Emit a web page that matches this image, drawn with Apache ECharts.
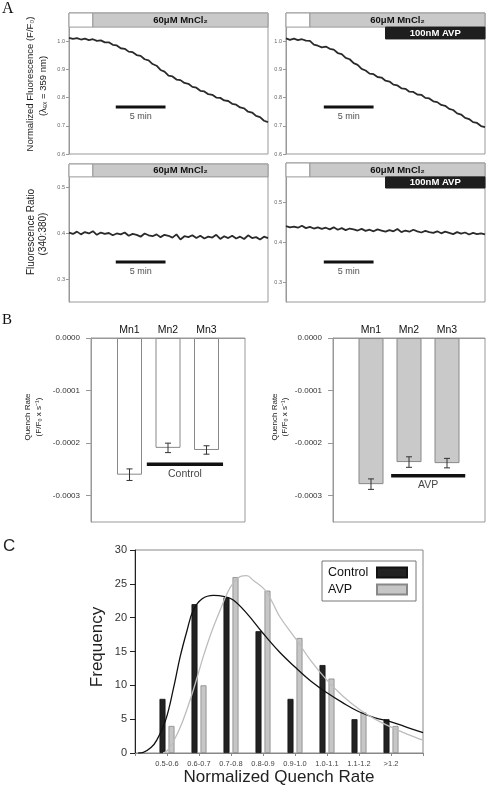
<!DOCTYPE html>
<html><head><meta charset="utf-8">
<script src="https://cdn.jsdelivr.net/npm/echarts@6/dist/echarts.min.js"></script>
<style>html,body{margin:0;padding:0;background:#fff}#c{width:488px;height:792px}</style>
</head><body><div id="c"></div>
<script>
// ---------- Panel A data ----------
const timeMin = [0,0.4,0.8,1.2,1.6,2,2.4,2.8,3.2,3.6,4,4.4,4.8,5.2,5.6,6,6.4,6.8,7.2,7.6,8,8.4,8.8,9.2,9.6,10,10.4,10.8,11.2,11.6,12,12.4,12.8,13.2,13.6,14,14.4,14.8,15.2,15.6,16,16.4,16.8,17.2,17.6,18,18.4,18.8,19.2,19.6,20];
const fluorControl = [1.012,1.008,1.011,1.006,1.009,1.004,1.007,1.001,1.003,0.996,
  0.996,0.987,0.985,0.975,0.973,0.963,0.961,0.951,0.948,0.936,
  0.932,0.919,0.913,0.898,0.892,0.878,0.875,0.864,0.862,0.852,
  0.849,0.838,0.835,0.824,0.822,0.812,0.810,0.800,0.799,0.790,
  0.788,0.778,0.775,0.765,0.762,0.750,0.747,0.735,0.731,0.718,0.713];
const fluorAVP = [1.010,1.005,1.009,1.004,1.007,1.002,1.001,0.988,0.984,0.978,
  0.981,0.973,0.970,0.958,0.954,0.941,0.936,0.922,0.916,0.902,
  0.896,0.885,0.883,0.873,0.871,0.860,0.857,0.846,0.843,0.833,
  0.831,0.821,0.820,0.811,0.810,0.799,0.797,0.787,0.784,0.774,
  0.771,0.760,0.756,0.744,0.740,0.728,0.724,0.713,0.710,0.699,0.695];
const ratioControl = [0.401,0.398,0.403,0.397,0.402,0.399,0.404,0.396,0.401,0.398,
  0.400,0.395,0.399,0.397,0.401,0.394,0.398,0.396,0.392,0.399,
  0.395,0.393,0.397,0.391,0.396,0.394,0.390,0.397,0.386,0.393,
  0.391,0.395,0.389,0.394,0.388,0.392,0.390,0.396,0.387,0.393,
  0.389,0.394,0.388,0.392,0.387,0.395,0.389,0.391,0.386,0.392,0.389];
const ratioAVP = [0.441,0.438,0.440,0.437,0.442,0.436,0.439,0.435,0.438,0.434,
  0.437,0.433,0.438,0.432,0.436,0.431,0.435,0.433,0.430,0.434,
  0.429,0.432,0.428,0.433,0.430,0.427,0.431,0.428,0.434,0.426,
  0.430,0.427,0.432,0.428,0.425,0.429,0.426,0.424,0.428,0.423,
  0.427,0.424,0.421,0.426,0.422,0.425,0.420,0.424,0.421,0.423,0.420];
const mnStart = 2.4, avpStart = 10, timeEnd = 20;
const fluorTicks = [0.6,0.7,0.8,0.9,1.0];
const ratioTicks = [0.3,0.4,0.5];
const scaleBarLeft = [4.7, 9.7], scaleBarRight = [3.8, 8.8];

// ---------- Panel B data ----------
const quenchLabels = ['Mn1','Mn2','Mn3'];
const controlQuench = [-0.000260,-0.000209,-0.000213];
const controlErr = [0.000011,0.000009,0.000008];
const avpQuench = [-0.000278,-0.000236,-0.000238];
const avpErr = [0.000010,0.000010,0.000009];
const quenchTicks = [0,-0.0001,-0.0002,-0.0003];

// ---------- Panel C data ----------
const binLabels = ['0.5-0.6','0.6-0.7','0.7-0.8','0.8-0.9','0.9-1.0','1.0-1.1','1.1-1.2','>1.2'];
const controlFreq = [8,22,23,18,8,13,5,5];
const avpFreq = [4,10,26,24,17,11,6,4];
const controlFitX = [0.1,0.26,0.5,0.68,0.96,1.2,1.41,1.62,1.82,2.1,2.45,2.8,3.07,3.5,4,4.5,5,5.5,6,6.5,7,7.5,8,8.5,9];
const controlFitY = [0,0.1,0.8,1.9,4.9,9.5,14.2,18.0,21.1,22.8,23.3,23.1,22.6,20.6,17.7,15.0,12.7,10.6,8.9,7.4,6.1,5.2,4.6,3.8,3.0];
const avpFitX = [0.88,1.0,1.2,1.45,1.72,1.95,2.13,2.4,2.66,2.9,3.07,3.3,3.49,3.7,4.06,4.3,4.53,5.05,5.5,5.99,6.5,7.03,7.5,7.97,8.5,9];
const avpFitY = [0,0.3,1.7,4.2,7.8,11.3,14.2,18.0,21.1,23.8,25.1,26.1,26.2,25.5,24.1,22.2,20.1,16.7,13.6,10.8,8.4,6.4,5.0,3.9,2.8,1.9];

const FF = 'Liberation Sans, Arial, sans-serif';
const pair = (xs, ys) => xs.map((x, i) => [x, ys[i]]);

function headerAreas(yLo, yHi, avpLo) {
  const areas = [
    [{xAxis:0, yAxis:yLo, itemStyle:{color:'#fff', borderColor:'#999', borderWidth:1}}, {xAxis:mnStart, yAxis:yHi}],
    [{xAxis:mnStart, yAxis:yLo, itemStyle:{color:'#c9c9c9', borderColor:'#999', borderWidth:1},
      label:{show:true, position:'inside', formatter:'60μM MnCl₂', fontSize:9.5, fontWeight:'bold', color:'#111', fontFamily:FF}},
     {xAxis:timeEnd, yAxis:yHi}]
  ];
  if (avpLo !== undefined) {
    areas.push([{xAxis:avpStart, yAxis:avpLo, itemStyle:{color:'#1e1e1e', borderColor:'#1e1e1e', borderWidth:1},
      label:{show:true, position:'inside', formatter:'100nM AVP', fontSize:9.5, fontWeight:'bold', color:'#fff', fontFamily:FF}},
      {xAxis:timeEnd, yAxis:yLo}]);
  }
  return areas;
}

function traceSeries(idx, ys, areas) {
  return {type:'line', xAxisIndex:idx, yAxisIndex:idx, data:pair(timeMin, ys), showSymbol:false, silent:true,
    lineStyle:{color:'#2a2a2a', width:1.8}, markArea:{silent:true, data:areas}, z:3};
}
function scaleBarSeries(idx, bar, y) {
  return [
    {type:'line', xAxisIndex:idx, yAxisIndex:idx, data:[[bar[0], y],[bar[1], y]], showSymbol:false, silent:true,
      lineStyle:{color:'#111', width:3}},
    {type:'scatter', xAxisIndex:idx, yAxisIndex:idx, data:[[(bar[0]+bar[1])/2, y]], symbolSize:0.1, silent:true,
      label:{show:true, position:'bottom', distance:5, formatter:'5 min', fontSize:9, color:'#222', fontFamily:FF}}
  ];
}

const aY = (min, max, ticks) => ({type:'value', min, max, splitLine:{show:false},
  axisLine:{show:true, lineStyle:{color:'#999'}},
  axisTick:{show:true, length:3, lineStyle:{color:'#999'}, customValues:ticks},
  axisLabel:{fontSize:5.5, color:'#666', margin:4, fontFamily:FF, customValues:ticks, formatter:v => v.toFixed(1)}});
const aX = (grid) => ({type:'value', gridIndex:grid, min:0, max:timeEnd, show:false});

const bY = (grid) => ({type:'value', gridIndex:grid, min:-0.00035, max:0, splitLine:{show:false},
  axisLine:{show:true, lineStyle:{color:'#999'}},
  axisTick:{show:true, length:5, lineStyle:{color:'#999'}, customValues:quenchTicks},
  axisLabel:{fontSize:8, color:'#333', margin:11, fontFamily:FF, customValues:quenchTicks, formatter:v => v.toFixed(4)}});
const bX = (grid) => ({type:'value', gridIndex:grid, position:'top', min:0, max:4, interval:1, splitLine:{show:false},
  axisLine:{show:true, lineStyle:{color:'#999'}}, axisTick:{show:false},
  axisLabel:{fontSize:10.5, color:'#111', margin:2, fontFamily:FF, formatter:v => quenchLabels[v-1] || ''}});

function errRender(params, api) {
  const x = api.value(0), lo = api.value(1), hi = api.value(2);
  const a = api.coord([x, lo]), b = api.coord([x, hi]);
  const w = 3, st = {stroke:'#333', lineWidth:1};
  return {type:'group', children:[
    {type:'line', shape:{x1:a[0], y1:a[1], x2:b[0], y2:b[1]}, style:st},
    {type:'line', shape:{x1:a[0]-w, y1:a[1], x2:a[0]+w, y2:a[1]}, style:st},
    {type:'line', shape:{x1:b[0]-w, y1:b[1], x2:b[0]+w, y2:b[1]}, style:st}]};
}
function quenchSeries(idx, vals, errs, fill, groupLabel, lineX, lineY) {
  return [
    {type:'bar', xAxisIndex:idx, yAxisIndex:idx, barWidth:25, silent:true,
      data:vals.map((v, i) => [i+1, v]), itemStyle:{color:fill, borderColor:'#888', borderWidth:1}},
    {type:'custom', xAxisIndex:idx, yAxisIndex:idx, renderItem:errRender, silent:true, encode:{x:0, y:[1,2]},
      data:vals.map((v, i) => [i+1, v-errs[i], v+errs[i]]), z:5},
    {type:'line', xAxisIndex:idx, yAxisIndex:idx, data:[[lineX[0], lineY],[lineX[1], lineY]], showSymbol:false, silent:true,
      lineStyle:{color:'#111', width:3.5}},
    {type:'scatter', xAxisIndex:idx, yAxisIndex:idx, data:[[(lineX[0]+lineX[1])/2, lineY]], symbolSize:0.1, silent:true,
      label:{show:true, position:'bottom', distance:4, formatter:groupLabel, fontSize:10.5, color:'#111', fontFamily:FF}}
  ];
}

const cCats = [''].concat(binLabels, ['']);
const padC = a => [null].concat(a, [null]);

const rotText = (x, y, text, size) => ({type:'text', x, y, rotation:Math.PI/2,
  style:{text, fontSize:size, fontFamily:FF, fill:'#222', align:'center', verticalAlign:'middle'}});

const option = {
  animation:false,
  grid:[
    {left:69, top:13, width:199, height:141, show:true, borderColor:'#999', borderWidth:1},
    {left:286, top:13, width:199, height:141, show:true, borderColor:'#999', borderWidth:1},
    {left:69, top:164, width:199, height:138, show:true, borderColor:'#999', borderWidth:1},
    {left:286, top:163, width:199, height:139, show:true, borderColor:'#999', borderWidth:1},
    {left:91, top:338, width:154, height:184, show:true, borderColor:'#999', borderWidth:1},
    {left:333, top:338, width:154, height:184, show:true, borderColor:'#999', borderWidth:1},
    {left:135, top:550, width:288, height:203, show:true, borderColor:'#888', borderWidth:1}
  ],
  xAxis:[
    aX(0), aX(1), aX(2), aX(3), bX(4), bX(5),
    {type:'category', gridIndex:6, data:cCats, boundaryGap:false,
      axisLine:{lineStyle:{color:'#888'}}, axisTick:{show:true, length:3, interval:0, lineStyle:{color:'#888'}},
      axisLabel:{interval:0, fontSize:7.5, color:'#444', margin:7, fontFamily:FF}, splitLine:{show:false}},
    {type:'value', gridIndex:6, min:0, max:9, show:false}
  ],
  yAxis:[
    Object.assign(aY(0.6, 1.1, fluorTicks), {gridIndex:0}),
    Object.assign(aY(0.6, 1.1, fluorTicks), {gridIndex:1}),
    Object.assign(aY(0.25, 0.55, ratioTicks), {gridIndex:2}),
    Object.assign(aY(0.25, 0.6, ratioTicks), {gridIndex:3}),
    bY(4), bY(5),
    {type:'value', gridIndex:6, min:0, max:30, interval:5, splitLine:{show:false},
      axisLine:{show:true, lineStyle:{color:'#222'}}, axisTick:{show:true, length:5, lineStyle:{color:'#222'}},
      axisLabel:{fontSize:11, color:'#333', margin:8, fontFamily:FF}}
  ],
  legend:{orient:'vertical', left:322, top:561, align:'right', itemWidth:30, itemHeight:10, itemGap:4,
    padding:[5,8,5,6], borderColor:'#777', borderWidth:1, backgroundColor:'#fff', selectedMode:false, icon:'rect',
    formatter:name => '{t|' + name + '}',
    textStyle:{fontSize:12.5, color:'#111', fontFamily:FF,
      rich:{t:{width:44, align:'left', fontSize:12.5, color:'#111', fontFamily:FF}}},
    data:['Control','AVP']},
  graphic:[
    {type:'text', x:2, y:1, style:{text:'A', fontSize:16, fontFamily:'Liberation Serif, serif', fill:'#111'}},
    {type:'text', x:2, y:313, style:{text:'B', fontSize:15, fontFamily:'Liberation Serif, serif', fill:'#111'}},
    {type:'text', x:3, y:538, style:{text:'C', fontSize:17, fontFamily:FF, fill:'#222'}},
    rotText(30, 84, 'Normalized Fluorescence (F/F₀)', 9.5),
    rotText(43, 86, '(λₑₓ = 359 nm)', 9.5),
    rotText(31, 232, 'Fluorescence Ratio', 10),
    rotText(43, 234, '(340:380)', 10),
    rotText(28, 417, 'Quench Rate', 8),
    rotText(39, 417, '(F/F₀ x s⁻¹)', 8),
    rotText(275, 417, 'Quench Rate', 8),
    rotText(285, 417, '(F/F₀ x s⁻¹)', 8),
    rotText(97, 647, 'Frequency', 17),
    {type:'text', x:279, y:777, style:{text:'Normalized Quench Rate', fontSize:17, fontFamily:FF, fill:'#222', align:'center', verticalAlign:'middle'}}
  ],
  series:[
    traceSeries(0, fluorControl, headerAreas(1.05, 1.1)),
    ...scaleBarSeries(0, scaleBarLeft, 0.767),
    traceSeries(1, fluorAVP, headerAreas(1.05, 1.1, 1.008)),
    ...scaleBarSeries(1, scaleBarRight, 0.767),
    traceSeries(2, ratioControl, headerAreas(0.522, 0.55)),
    ...scaleBarSeries(2, scaleBarLeft, 0.337),
    traceSeries(3, ratioAVP, headerAreas(0.565, 0.6, 0.537)),
    ...scaleBarSeries(3, scaleBarRight, 0.351),
    ...quenchSeries(4, controlQuench, controlErr, '#fff', 'Control', [1.45, 3.43], -0.00024),
    ...quenchSeries(5, avpQuench, avpErr, '#c9c9c9', 'AVP', [1.53, 3.48], -0.000262),
    {name:'Control', type:'bar', xAxisIndex:6, yAxisIndex:6, data:padC(controlFreq), barWidth:6, barGap:'50%', silent:true,
      itemStyle:{color:'#222', borderColor:'#111', borderWidth:0.8}},
    {name:'AVP', type:'bar', xAxisIndex:6, yAxisIndex:6, data:padC(avpFreq), barWidth:6, barGap:'50%', silent:true,
      itemStyle:{color:'#c6c6c6', borderColor:'#888', borderWidth:0.8}},
    {name:'Control fit', type:'line', xAxisIndex:7, yAxisIndex:6, data:pair(controlFitX, controlFitY), smooth:0.4,
      showSymbol:false, silent:true, lineStyle:{color:'#111', width:1.3}, z:4},
    {name:'AVP fit', type:'line', xAxisIndex:7, yAxisIndex:6, data:pair(avpFitX, avpFitY), smooth:0.4,
      showSymbol:false, silent:true, lineStyle:{color:'#bdbdbd', width:1.3}, z:4}
  ]
};
const chart = echarts.init(document.getElementById('c'), null, {renderer:'canvas'});
chart.setOption(option);
</script></body></html>
